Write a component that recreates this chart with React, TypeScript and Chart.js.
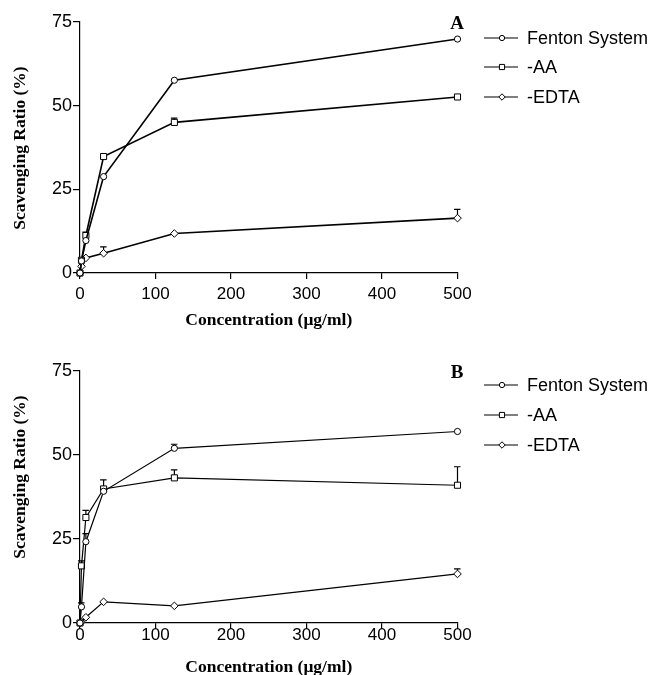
import React, { useEffect, useRef } from 'react';
import { Chart, registerables } from 'chart.js';
Chart.register(...registerables);

// ---------- data ----------
const CONCENTRATIONS = [0, 1.95, 7.8, 31.25, 125, 500];
const SERIES_NAMES = ['Fenton System', '-AA', '-EDTA'];
const X_MIN = 0;
const X_MAX = 500;
const X_STEP = 100;
const Y_MIN = 0;
const Y_MAX = 75;
const Y_STEP = 25;
const PANEL_LETTERS = ['A', 'B'];
const Y_TITLE = 'Scavenging Ratio (%)';
const X_TITLE = 'Concentration (\u03bcg/ml)';

const A_FENTON = [0, 3.6, 9.7, 28.8, 57.6, 69.9];
const A_FENTON_ERR = [0, 0, 0, 0, 0, 0];
const A_AA = [0, 3.8, 11.2, 34.8, 45.0, 52.6];
const A_AA_ERR = [0, 0, 1.0, 0, 1.3, 0];
const A_EDTA = [0, 2.0, 4.5, 5.9, 11.8, 16.4];
const A_EDTA_ERR = [0, 0, 0, 1.9, 0, 2.6];

const B_FENTON = [0, 4.8, 24.2, 39.2, 52.0, 57.0];
const B_FENTON_ERR = [0, 1.2, 2.4, 0, 1.2, 0];
const B_AA = [0, 17.0, 31.4, 39.9, 43.2, 41.0];
const B_AA_ERR = [0, 1.5, 2.1, 2.7, 2.4, 5.5];
const B_EDTA = [0, 0.3, 1.7, 6.3, 5.1, 14.6];
const B_EDTA_ERR = [0, 0, 0, 0, 0, 1.5];

// ---------- styles / layout ----------
const SANS = "'Liberation Sans', Arial, sans-serif";
const SERIF = "'Liberation Serif', 'Times New Roman', serif";
const MARKERS = [
  { pointStyle: 'circle', pointRadius: 3.1 },
  { pointStyle: 'rect', pointRadius: 4.3 },
  { pointStyle: 'rectRot', pointRadius: 3.8 },
];

const PANELS = [
  {
    top: 0, h: 330, plotTop: 22, plotBottom: 273,
    series: [A_FENTON, A_AA, A_EDTA], errs: [A_FENTON_ERR, A_AA_ERR, A_EDTA_ERR],
    lineWidth: 1.6, xTickPad: 5,
    legendY: [38, 67, 97], letterY: 24, yTitleY: 148, xTitleBase: 325,
  },
  {
    top: 330, h: 345, plotTop: 371, plotBottom: 623,
    series: [B_FENTON, B_AA, B_EDTA], errs: [B_FENTON_ERR, B_AA_ERR, B_EDTA_ERR],
    lineWidth: 1.2, xTickPad: -4,
    legendY: [385, 415, 445], letterY: 373, yTitleY: 477, xTitleBase: 672,
  },
];

const PLOT_LEFT = 80;
const PLOT_RIGHT = 457.5;

function drawMarker(ctx, style, x, y, r) {
  ctx.beginPath();
  if (style === 'circle') {
    ctx.arc(x, y, r, 0, Math.PI * 2);
  } else if (style === 'rect') {
    const s = r * Math.SQRT1_2;
    ctx.rect(x - s, y - s, 2 * s, 2 * s);
  } else {
    ctx.moveTo(x - r, y);
    ctx.lineTo(x, y - r);
    ctx.lineTo(x + r, y);
    ctx.lineTo(x, y + r);
    ctx.closePath();
  }
  ctx.fillStyle = '#fff';
  ctx.fill();
  ctx.lineWidth = 1;
  ctx.strokeStyle = '#000';
  ctx.stroke();
}

function Panel({ idx }) {
  const ref = useRef(null);
  useEffect(() => {
    const p = PANELS[idx];
    const off = p.top;
    const errorBars = {
      id: 'errorBars',
      beforeDatasetsDraw(chart) {
        const ctx = chart.ctx;
        const ys = chart.scales.y;
        ctx.save();
        ctx.strokeStyle = '#000';
        ctx.lineWidth = 1.2;
        p.errs.forEach((errArr, i) => {
          const meta = chart.getDatasetMeta(i);
          errArr.forEach((e, j) => {
            if (!e) return;
            const x = meta.data[j].x;
            const y0 = ys.getPixelForValue(p.series[i][j]);
            const y1 = ys.getPixelForValue(p.series[i][j] + e);
            ctx.beginPath();
            ctx.moveTo(x, y0);
            ctx.lineTo(x, y1);
            ctx.moveTo(x - 3.5, y1);
            ctx.lineTo(x + 3, y1);
            ctx.stroke();
          });
        });
        ctx.restore();
      },
    };
    const decorations = {
      id: 'decorations',
      afterDraw(chart) {
        const ctx = chart.ctx;
        ctx.save();
        // legend
        SERIES_NAMES.forEach((name, i) => {
          const y = p.legendY[i] - off;
          ctx.strokeStyle = '#000';
          ctx.lineWidth = 1.2;
          ctx.beginPath();
          ctx.moveTo(484, y);
          ctx.lineTo(518, y);
          ctx.stroke();
          drawMarker(ctx, MARKERS[i].pointStyle, 502, y, MARKERS[i].pointRadius * 0.85);
          ctx.fillStyle = '#000';
          ctx.font = `18px ${SANS}`;
          ctx.textAlign = 'left';
          ctx.textBaseline = 'middle';
          ctx.fillText(name, 527, y + 1);
        });
        // panel letter
        ctx.fillStyle = '#000';
        ctx.font = `bold 19px ${SERIF}`;
        ctx.textAlign = 'center';
        ctx.textBaseline = 'middle';
        ctx.fillText(PANEL_LETTERS[idx], 457, p.letterY - off);
        // axis titles
        ctx.font = `bold 17.5px ${SERIF}`;
        ctx.textBaseline = 'alphabetic';
        ctx.fillText(X_TITLE, (PLOT_LEFT + PLOT_RIGHT) / 2, p.xTitleBase - off);
        ctx.save();
        ctx.translate(25, p.yTitleY - off);
        ctx.rotate(-Math.PI / 2);
        ctx.fillText(Y_TITLE, 0, 0);
        ctx.restore();
        ctx.restore();
      },
    };

    const chart = new Chart(ref.current, {
      type: 'line',
      data: {
        datasets: SERIES_NAMES.map((name, i) => ({
          label: name,
          data: CONCENTRATIONS.map((c, j) => ({ x: c, y: p.series[i][j] })),
          borderColor: '#000',
          backgroundColor: '#fff',
          borderWidth: p.lineWidth,
          pointStyle: MARKERS[i].pointStyle,
          pointRadius: MARKERS[i].pointRadius,
          pointBorderWidth: 1,
          pointBorderColor: '#000',
          pointBackgroundColor: '#fff',
          tension: 0,
          clip: false,
        })),
      },
      options: {
        animation: false,
        responsive: false,
        events: [],
        layout: {
          padding: { top: p.plotTop - off, left: 0, right: 648 - PLOT_RIGHT, bottom: 0 },
        },
        plugins: { legend: { display: false }, tooltip: { enabled: false }, title: { display: false } },
        scales: {
          x: {
            type: 'linear',
            min: X_MIN,
            max: X_MAX,
            border: { display: true, color: '#000', width: 1.2 },
            grid: { display: true, drawOnChartArea: false, drawTicks: true, tickLength: 6, color: '#000', lineWidth: 1.2 },
            ticks: { stepSize: X_STEP, color: '#000', padding: p.xTickPad, font: { family: SANS, size: 17 }, maxRotation: 0 },
            afterFit(scale) {
              scale.height = p.h - (p.plotBottom - off);
            },
          },
          y: {
            type: 'linear',
            min: Y_MIN,
            max: Y_MAX,
            border: { display: true, color: '#000', width: 1.2 },
            grid: { display: true, drawOnChartArea: false, drawTicks: true, tickLength: 7, color: '#000', lineWidth: 1.2 },
            ticks: { stepSize: Y_STEP, color: '#000', padding: 1, font: { family: SANS, size: 18 } },
            afterFit(scale) {
              scale.width = PLOT_LEFT;
            },
          },
        },
      },
      plugins: [errorBars, decorations],
    });
    return () => chart.destroy();
  }, [idx]);
  const p = PANELS[idx];
  return (
    <canvas
      ref={ref}
      width={648}
      height={p.h}
      style={{ position: 'absolute', left: 0, top: p.top, width: 648, height: p.h, display: 'block' }}
    />
  );
}

export default function App() {
  return (
    <div style={{ position: 'fixed', left: 0, top: 0, width: 648, height: 675, background: '#fff' }}>
      <Panel idx={0} />
      <Panel idx={1} />
    </div>
  );
}
